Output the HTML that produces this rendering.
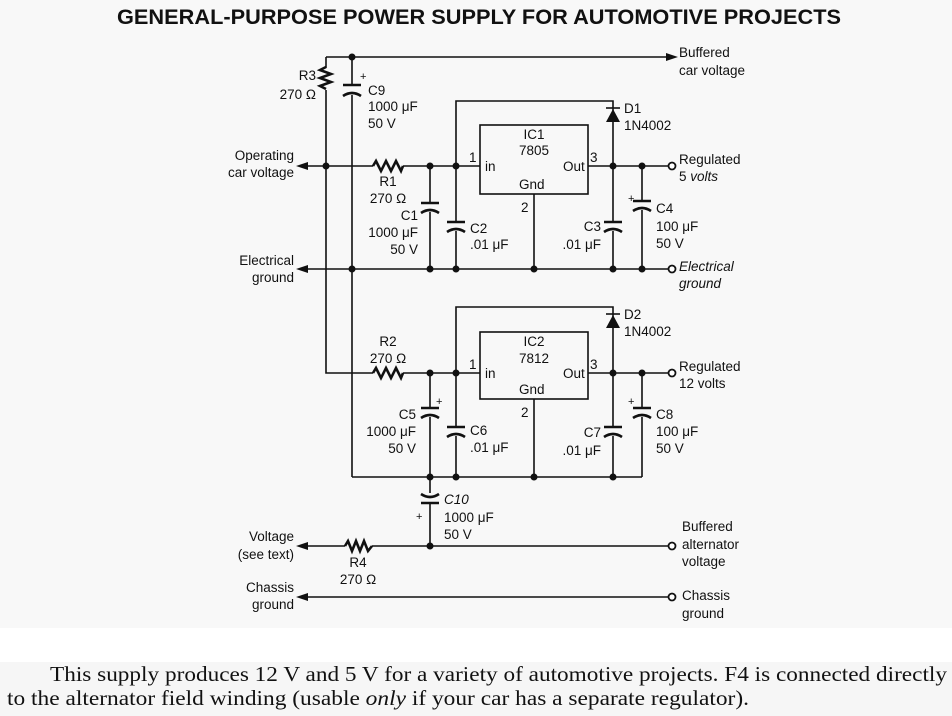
<!DOCTYPE html>
<html><head><meta charset="utf-8"><style>
body{margin:0;width:952px;height:716px;overflow:hidden;background:#fff}
svg{display:block}
text{font-family:"Liberation Sans",sans-serif;font-size:13.5px;fill:#111}
.s{font-family:"Liberation Serif",serif;font-size:21px}
.t{font-size:21px;font-weight:bold}
.p{font-size:11px}
</style></head><body>
<svg width="952" height="716" viewBox="0 0 952 716" xmlns="http://www.w3.org/2000/svg">
<rect x="0" y="0" width="952" height="628" fill="#f8f8f8"/>
<rect x="0" y="628" width="952" height="34" fill="#fff"/>
<rect x="0" y="662" width="952" height="54" fill="#f6f6f6"/>
<text class="t" x="117" y="24" textLength="724" lengthAdjust="spacingAndGlyphs">GENERAL-PURPOSE POWER SUPPLY FOR AUTOMOTIVE PROJECTS</text>
<g stroke="#111" stroke-width="1.6" fill="none">
<path d="M326 57H672"/>
<path d="M326 57V68M326 90V373H373M403 373H480"/>
<path d="M352 57V85M352 95V477"/>
<path d="M300 166H373M403 166H480"/>
<path d="M300 269H613M613 269H672"/>
<rect x="480" y="125" width="108" height="69"/>
<path d="M588 166H668"/>
<path d="M456 166V101H613V166"/>
<path d="M534 194V269"/>
<path d="M430 166V203M430 212V269"/>
<path d="M456 166V222M456 231V269"/>
<path d="M613 166V222M613 231V269"/>
<path d="M642 166V201M642 210V269"/>
<rect x="480" y="332" width="108" height="67"/>
<path d="M588 373H668"/>
<path d="M456 373V307H613V373"/>
<path d="M534 399V477"/>
<path d="M352 477H642"/>
<path d="M430 373V408M430 417V477"/>
<path d="M456 373V427M456 436V477"/>
<path d="M613 373V427M613 436V477"/>
<path d="M642 373V408M642 417V477"/>
<path d="M430 477V493M430 502V546"/>
<path d="M300 546H345M372 546H668"/>
<path d="M300 597H668"/>
</g>
<g stroke="#111" stroke-width="2.6" fill="none" stroke-linejoin="miter">
<path d="M326 67l-6 3 11 4-11 4 11 4-11 4 6 3"/>
<path d="M373 166l3-5 5 10 5-10 5 10 5-10 5 10 2-5"/>
<path d="M373 373l3-5 5 10 5-10 5 10 5-10 5 10 2-5"/>
<path d="M345 546l3-5 4 10 4-10 4 10 4-10 4 10 4-5"/>
<path d="M343 85h18M343 96q9-6 18 0"/>
<path d="M421 203h18M421 213q9-6 18 0"/>
<path d="M447 222h18M447 232q9-6 18 0"/>
<path d="M604 222h18M604 232q9-6 18 0"/>
<path d="M633 201h18M633 211q9-6 18 0"/>
<path d="M421 408h18M421 418q9-6 18 0"/>
<path d="M447 427h18M447 437q9-6 18 0"/>
<path d="M604 427h18M604 437q9-6 18 0"/>
<path d="M633 408h18M633 418q9-6 18 0"/>
<path d="M421 494q9 6 18 0M421 503h18"/>
</g>
<g fill="#111">
<path d="M678 57l-12-4v8z"/>
<path d="M296 166l12-4v8z"/>
<path d="M296 269l12-4v8z"/>
<path d="M296 546l12-4v8z"/>
<path d="M296 597l12-4v8z"/>
<path d="M606 122h14l-7-13z"/><path d="M606 108h14" stroke="#111" stroke-width="1.6"/>
<path d="M606 328h14l-7-13z"/><path d="M606 314h14" stroke="#111" stroke-width="1.6"/>
<circle cx="352" cy="57" r="3.5"/><circle cx="326" cy="166" r="3.5"/><circle cx="430" cy="166" r="3.5"/><circle cx="456" cy="166" r="3.5"/><circle cx="613" cy="166" r="3.5"/><circle cx="642" cy="166" r="3.5"/>
<circle cx="352" cy="269" r="3.5"/><circle cx="430" cy="269" r="3.5"/><circle cx="456" cy="269" r="3.5"/><circle cx="534" cy="269" r="3.5"/><circle cx="613" cy="269" r="3.5"/><circle cx="642" cy="269" r="3.5"/>
<circle cx="430" cy="373" r="3.5"/><circle cx="456" cy="373" r="3.5"/><circle cx="613" cy="373" r="3.5"/><circle cx="642" cy="373" r="3.5"/>
<circle cx="430" cy="477" r="3.5"/><circle cx="456" cy="477" r="3.5"/><circle cx="534" cy="477" r="3.5"/><circle cx="613" cy="477" r="3.5"/><circle cx="430" cy="546" r="3.5"/>
</g>
<g fill="#fff" stroke="#111" stroke-width="1.8">
<circle cx="672" cy="166" r="3.5"/><circle cx="672" cy="269" r="3.5"/><circle cx="672" cy="373" r="3.5"/><circle cx="672" cy="546" r="3.5"/><circle cx="672" cy="597" r="3.5"/>
</g>
<text x="679" y="57">Buffered</text><text x="679" y="75">car voltage</text>
<text x="316" y="80" text-anchor="end">R3</text><text x="316" y="99" text-anchor="end">270 Ω</text>
<text class="p" x="360" y="80">+</text>
<text x="368" y="95">C9</text><text x="368" y="111">1000 μF</text><text x="368" y="128">50 V</text>
<text x="624" y="113">D1</text><text x="624" y="130">1N4002</text>
<text x="534" y="139" text-anchor="middle">IC1</text><text x="534" y="155" text-anchor="middle">7805</text>
<text x="485" y="171">in</text><text x="563" y="171">Out</text><text x="519" y="189">Gnd</text>
<text x="469" y="162">1</text><text x="590" y="162">3</text><text x="521" y="212">2</text>
<text x="294" y="160" text-anchor="end">Operating</text><text x="294" y="177" text-anchor="end">car voltage</text>
<text x="388" y="186" text-anchor="middle">R1</text><text x="388" y="203" text-anchor="middle">270 Ω</text>
<text x="418" y="220" text-anchor="end">C1</text><text x="418" y="237" text-anchor="end">1000 μF</text><text x="418" y="254" text-anchor="end">50 V</text>
<text x="470" y="233">C2</text><text x="470" y="249">.01 μF</text>
<text x="601" y="231" text-anchor="end">C3</text><text x="601" y="249" text-anchor="end">.01 μF</text>
<text class="p" x="628" y="202">+</text>
<text x="656" y="213">C4</text><text x="656" y="231">100 μF</text><text x="656" y="248">50 V</text>
<text x="679" y="164">Regulated</text><text x="679" y="181">5 <tspan font-style="italic">volts</tspan></text>
<text x="294" y="265" text-anchor="end">Electrical</text><text x="294" y="282" text-anchor="end">ground</text>
<text x="679" y="271" font-style="italic">Electrical</text><text x="679" y="288" font-style="italic">ground</text>
<text x="624" y="319">D2</text><text x="624" y="336">1N4002</text>
<text x="534" y="346" text-anchor="middle">IC2</text><text x="534" y="363" text-anchor="middle">7812</text>
<text x="485" y="378">in</text><text x="563" y="378">Out</text><text x="519" y="394">Gnd</text>
<text x="469" y="369">1</text><text x="590" y="369">3</text><text x="521" y="417">2</text>
<text x="388" y="346" text-anchor="middle">R2</text><text x="388" y="363" text-anchor="middle">270 Ω</text>
<text class="p" x="436" y="405">+</text>
<text x="416" y="419" text-anchor="end">C5</text><text x="416" y="436" text-anchor="end">1000 μF</text><text x="416" y="453" text-anchor="end">50 V</text>
<text x="470" y="435">C6</text><text x="470" y="452">.01 μF</text>
<text x="601" y="437" text-anchor="end">C7</text><text x="601" y="455" text-anchor="end">.01 μF</text>
<text class="p" x="628" y="405">+</text>
<text x="656" y="419">C8</text><text x="656" y="436">100 μF</text><text x="656" y="453">50 V</text>
<text x="679" y="371">Regulated</text><text x="679" y="388">12 volts</text>
<text class="p" x="416" y="520">+</text>
<text x="444" y="504" font-style="italic">C10</text><text x="444" y="522">1000 μF</text><text x="444" y="539">50 V</text>
<text x="294" y="541" text-anchor="end">Voltage</text><text x="294" y="559" text-anchor="end">(see text)</text>
<text x="358" y="567" text-anchor="middle">R4</text><text x="358" y="584" text-anchor="middle">270 Ω</text>
<text x="682" y="531">Buffered</text><text x="682" y="549">alternator</text><text x="682" y="566">voltage</text>
<text x="294" y="592" text-anchor="end">Chassis</text><text x="294" y="609" text-anchor="end">ground</text>
<text x="682" y="600">Chassis</text><text x="682" y="618">ground</text>
<text class="s" x="50" y="681" textLength="897" lengthAdjust="spacingAndGlyphs">This supply produces 12 V and 5 V for a variety of automotive projects. F4 is connected directly</text>
<text class="s" x="7" y="705" textLength="742" lengthAdjust="spacingAndGlyphs">to the alternator field winding (usable <tspan font-style="italic">only</tspan> if your car has a separate regulator).</text>
</svg>
</body></html>
